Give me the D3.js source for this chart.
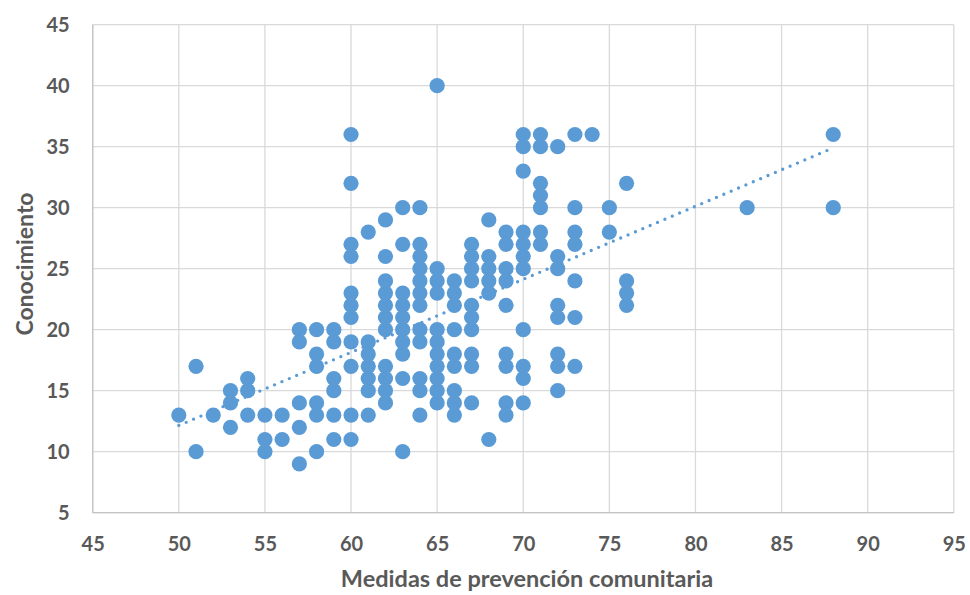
<!DOCTYPE html>
<html><head><meta charset="utf-8">
<script src="https://cdn.jsdelivr.net/npm/d3@7"></script>
<style>body{margin:0;background:#fff}svg{display:block}</style>
</head><body>
<svg id="chart" width="970" height="595"></svg>
<script>
// x values (Medidas de prevención comunitaria) and the y values at each x
const xGroups = [50,51,52,53,54,55,56,57,58,59,60,61,62,63,64,65,66,67,68,69,70,71,72,73,74,75,76,83,88];
const yGroups = [
  [13],
  [17,10],
  [13],
  [15,14,12],
  [16,15,13],
  [13,11,10],
  [13,11],
  [20,19,14,12,9],
  [20,18,17,14,13,10],
  [20,19,16,15,13,11],
  [36,32,27,26,23,22,21,19,17,13,11],
  [28,19,18,17,16,15,13],
  [29,26,24,23,22,21,20,17,16,15,14],
  [30,27,23,22,21,20,19,18,16,10],
  [30,27,26,25,24,23,22,20,19,16,15,13],
  [40,25,24,23,20,19,18,17,16,15,14],
  [24,23,22,20,18,17,15,14,13],
  [27,26,25,24,22,21,20,18,17,14],
  [29,26,25,24,23,11],
  [28,27,25,24,22,18,17,14,13],
  [36,35,33,28,27,26,25,20,17,16,14],
  [36,35,32,31,30,28,27],
  [35,26,25,22,21,18,17,15],
  [36,30,28,27,24,21,17],
  [36],
  [30,28],
  [32,24,23,22],
  [30],
  [36,30]
];
const xTicks = [45,50,55,60,65,70,75,80,85,90,95];
const yTicks = [5,10,15,20,25,30,35,40,45];
const xTitle = "Medidas de prevención comunitaria";
const yTitle = "Conocimiento";

const points = [];
xGroups.forEach((x,i)=>yGroups[i].forEach(y=>points.push({x,y})));

const svg = d3.select("#chart");
const L = 92.7, R = 953.8, T = 24.7, B = 512.7;
const x = d3.scaleLinear().domain([45,95]).range([L,R]);
const y = d3.scaleLinear().domain([5,45]).range([B,T]);
const grid = "#d9d9d9";
const blue = "#5b9bd5";
const txt = "#595959";
const font = "Lato, 'Open Sans', sans-serif";

// gridlines
svg.append("g").selectAll("line").data(xTicks).join("line")
  .attr("x1",d=>x(d)).attr("x2",d=>x(d)).attr("y1",T).attr("y2",B)
  .attr("stroke",grid).attr("stroke-width",1.3);
svg.append("g").selectAll("line").data(yTicks).join("line")
  .attr("y1",d=>y(d)).attr("y2",d=>y(d)).attr("x1",L).attr("x2",R)
  .attr("stroke",grid).attr("stroke-width",1.3);
// axis lines
svg.append("line").attr("x1",L).attr("x2",L).attr("y1",T).attr("y2",B).attr("stroke","#c4c4c4").attr("stroke-width",1.3);
svg.append("line").attr("x1",L).attr("x2",R).attr("y1",B).attr("y2",B).attr("stroke","#c4c4c4").attr("stroke-width",1.3);

// axes labels
const xAxis = d3.axisBottom(x).tickValues(xTicks).tickSize(0).tickPadding(0);
const gx = svg.append("g").attr("transform",`translate(0,${B})`).call(xAxis);
gx.select(".domain").remove();
gx.selectAll("text").attr("dy",null).attr("y",38.5).attr("fill",txt)
  .style("font-family",font).style("font-weight","bold").style("font-size","20px");

const yAxis = d3.axisLeft(y).tickValues(yTicks).tickSize(0).tickPadding(0);
const gy = svg.append("g").attr("transform",`translate(${L},0)`).call(yAxis);
gy.select(".domain").remove();
gy.selectAll("text").attr("x",-23).attr("dy","0.36em").attr("fill",txt)
  .style("font-family",font).style("font-weight","bold").style("font-size","20px");

// titles
svg.append("text").attr("x",527).attr("y",587).attr("text-anchor","middle")
  .attr("fill",txt).style("font-family",font).style("font-weight","bold").style("font-size","23.5px")
  .text(xTitle);
svg.append("text").attr("transform",`translate(33,264) rotate(-90)`).attr("text-anchor","middle")
  .attr("fill",txt).style("font-family",font).style("font-weight","bold").style("font-size","23px")
  .text(yTitle);

// points
svg.append("g").selectAll("circle").data(points).join("circle")
  .attr("cx",d=>x(d.x)).attr("cy",d=>y(d.y)).attr("r",7.6).attr("fill",blue);

// linear trendline
const mx = d3.mean(points,d=>d.x), my = d3.mean(points,d=>d.y);
const slope = d3.sum(points,d=>(d.x-mx)*(d.y-my))/d3.sum(points,d=>(d.x-mx)**2);
const icpt = my - slope*mx;
const [x0,x1] = d3.extent(points,d=>d.x);
svg.append("line").attr("x1",x(x0)).attr("y1",y(icpt+slope*x0))
  .attr("x2",x(x1)).attr("y2",y(icpt+slope*x1))
  .attr("stroke",blue).attr("stroke-width",3.3).attr("stroke-linecap","round")
  .attr("stroke-dasharray","0,8");
</script>
</body></html>
